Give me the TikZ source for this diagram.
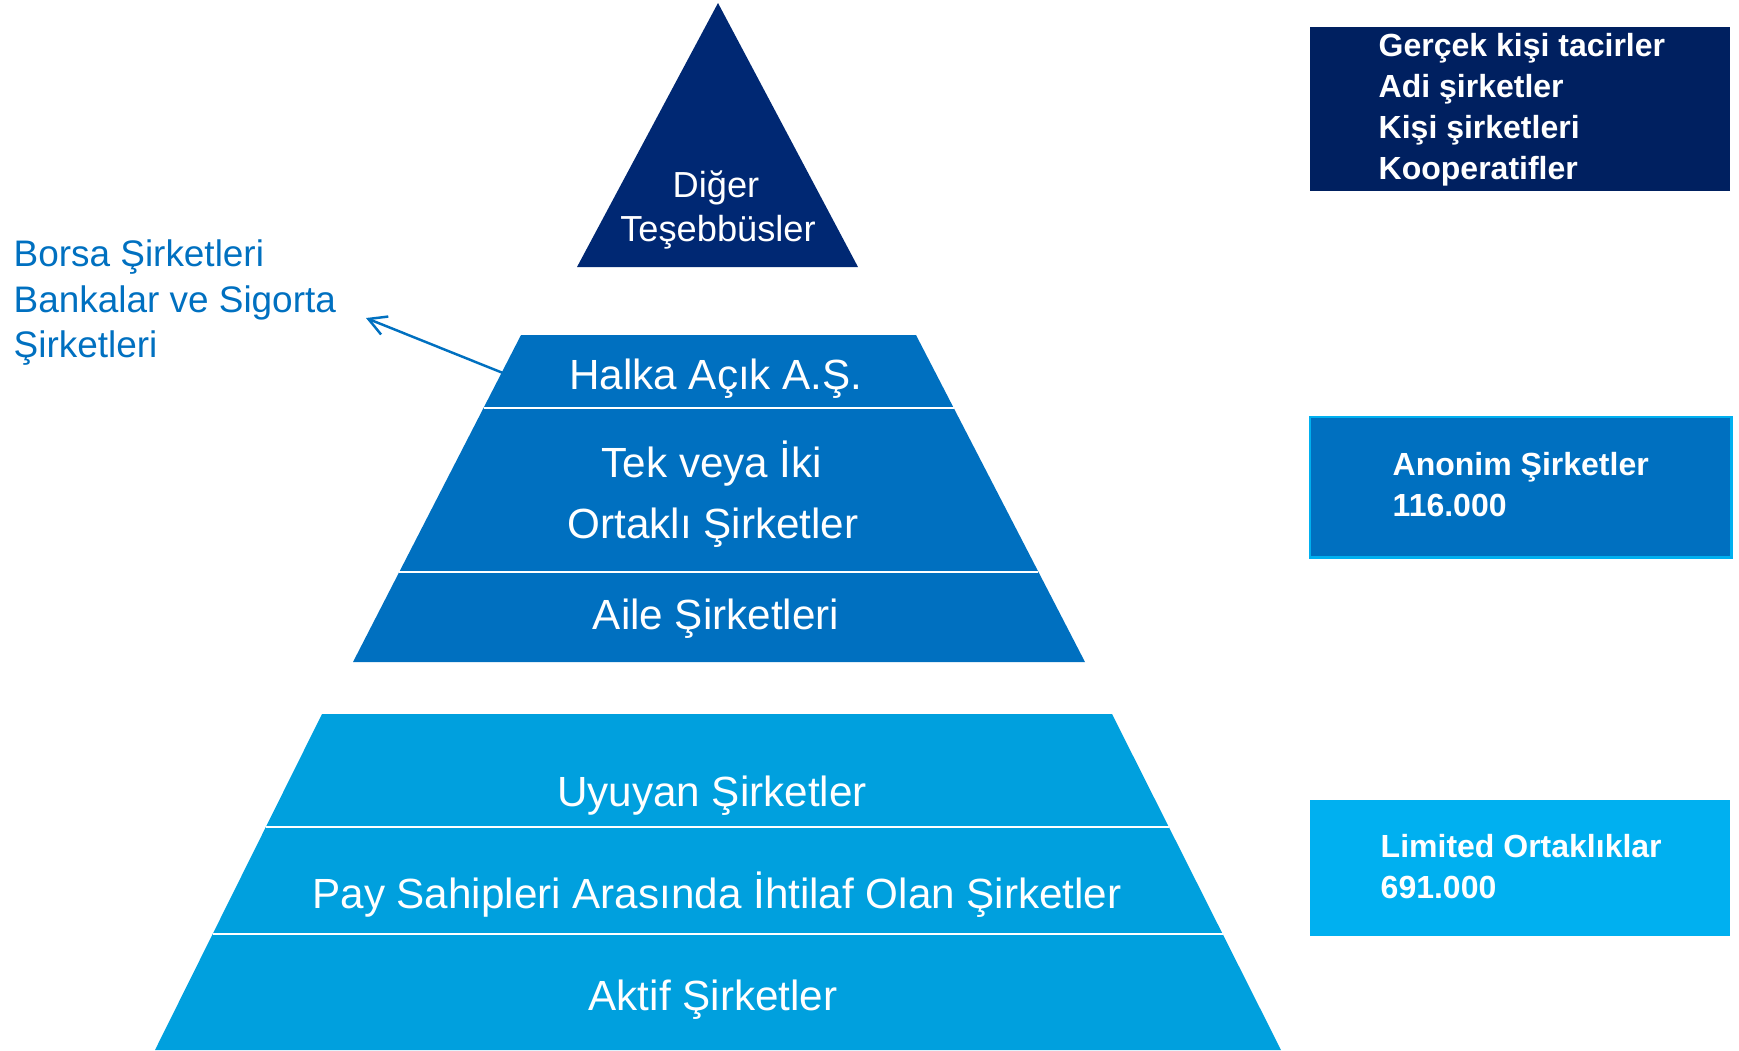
\documentclass[tikz,border=0pt]{standalone}
\usepackage{fontspec}
\setmainfont{Liberation Sans}
\usetikzlibrary{arrows.meta}

\definecolor{lacivert}{RGB}{0,40,115}
\definecolor{kutulacivert}{RGB}{0,32,96}
\definecolor{orta}{RGB}{0,112,192}
\definecolor{acik}{RGB}{0,160,222}
\definecolor{camgobegi}{RGB}{0,176,240}

\begin{document}
\begin{tikzpicture}[x=0.01cm,y=-0.01cm]
		\tikzstyle{yazi} = [text=white,font=\fontsize{12}{14}\selectfont,anchor=base];
		\tikzstyle{tepeyazi} = [text=white,font=\fontsize{10.3}{12}\selectfont,anchor=base];
		\tikzstyle{kutu} = [rectangle,inner sep=0pt,anchor=north west];
		\tikzstyle{kutuyazi} = [text=white,font=\fontsize{9.1}{11.4}\selectfont\bfseries,anchor=base west,inner sep=0pt,align=left];
		
		\useasboundingbox (0,0) rectangle (1739,1050);
		
		% tepe
		\fill[lacivert] (718,3) -- (858,267) -- (577,267) -- cycle;
		\node[tepeyazi] (diger) at (716,197) {Diğer};
		\node[tepeyazi] (tesebbus) at (718,241) {Teşebbüsler};
		
		% orta kat
		\fill[orta] (521,335) -- (916,335) -- (1085,662) -- (353,662) -- cycle;
		\draw[white,line width=0.8pt] (484,408) -- (954,408);
		\draw[white,line width=0.8pt] (399,572) -- (1038,572);
		\node[yazi] (halka) at (716,389) {Halka Açık A.Ş.};
		\node[yazi] (tek) at (712,477) {Tek veya İki};
		\node[yazi] (ortakli) at (713,538) {Ortaklı Şirketler};
		\node[yazi] (aile) at (716,629) {Aile Şirketleri};
		
		% alt kat
		\fill[acik] (322,714) -- (1112,714) -- (1281,1050) -- (155,1050) -- cycle;
		\draw[white,line width=0.8pt] (266,827) -- (1169,827);
		\draw[white,line width=0.8pt] (213,934) -- (1223,934);
		\node[yazi] (uyuyan) at (712,806) {Uyuyan Şirketler};
		\node[yazi] (ihtilaf) at (717,908) {Pay Sahipleri Arasında İhtilaf Olan Şirketler};
		\node[yazi] (aktif) at (713,1010) {Aktif Şirketler};
		
		% borsa (base = son satir)
		\node[text=orta,font=\fontsize{10.5}{12.8}\selectfont,anchor=base west,inner sep=0pt,align=left] (borsa) at (13,357) {Borsa Şirketleri\\Bankalar ve Sigorta\\Şirketleri};
		\coordinate (halkasol) at (503,373);
		\coordinate (borsauc) at (366,318);
		\draw[orta,line width=0.7pt,-{Straight Barb[length=5pt,width=5.5pt]}] (halkasol) -- (borsauc);
		
		% sag kutular
		\node[kutu,fill=kutulacivert,minimum width=4.20cm,minimum height=1.64cm] (diger kutu) at (1309,26) {};
		\foreach \i/\t in {1/Gerçek kişi tacirler,2/Adi şirketler,3/Kişi şirketleri,4/Kooperatifler}{
			\node[kutuyazi] (ust\i) at (1378,15+41*\i) {\t};
		}
		\node[kutu,fill=orta,draw=camgobegi,line width=0.7pt,minimum width=4.21cm,minimum height=1.40cm] (anonim kutu) at (1309,416) {};
		\node[kutuyazi] (anonim) at (1392,516) {Anonim Şirketler\\116.000};
		\node[kutu,fill=camgobegi,minimum width=4.20cm,minimum height=1.36cm] (limited kutu) at (1309,799) {};
		\node[kutuyazi] (limited) at (1380,898) {Limited Ortaklıklar\\691.000};
		
\end{tikzpicture}
\end{document}
